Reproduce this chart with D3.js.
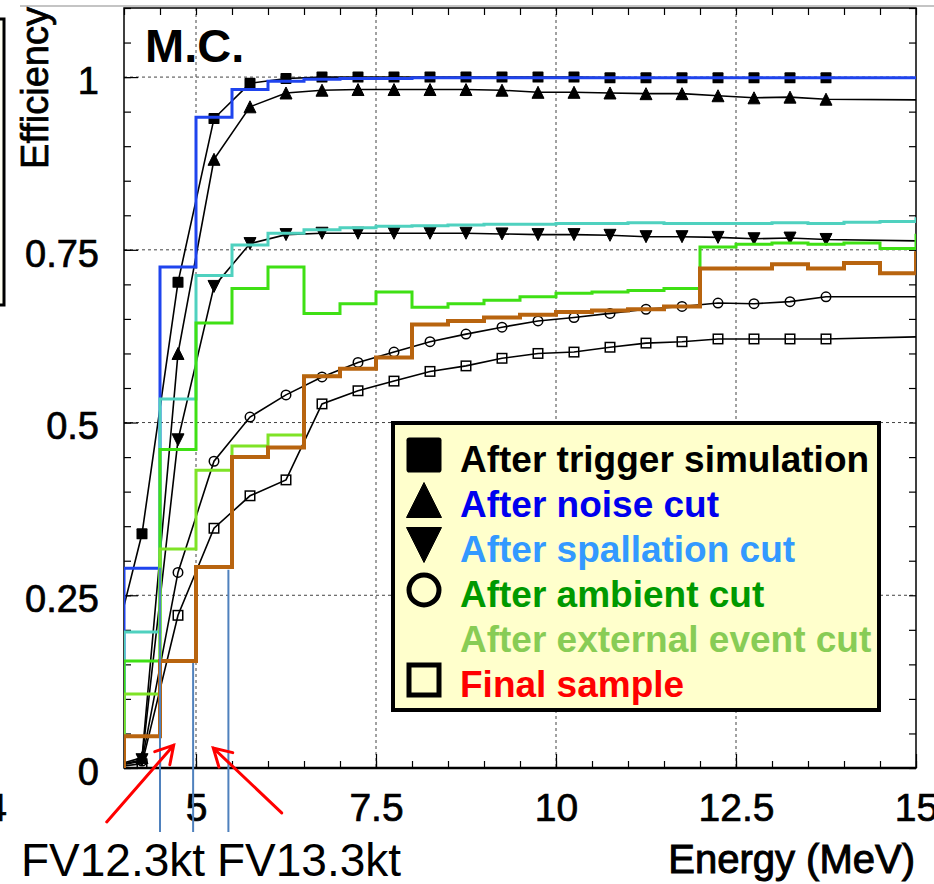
<!DOCTYPE html>
<html>
<head>
<meta charset="utf-8">
<script src="https://cdn.jsdelivr.net/npm/d3@7"></script>
<style>
  body { margin: 0; background: #fff; }
  svg { display: block; font-family: "Liberation Sans", Arial, sans-serif; }
</style>
</head>
<body>
<div id="chart"></div>
<script>
// ---- data ----
// graph points (bin centres, MeV)
const centers = [3.75, 4.25, 4.75, 5.25, 5.75, 6.25, 6.75, 7.25, 7.75, 8.25, 8.75,
  9.25, 9.75, 10.25, 10.75, 11.25, 11.75, 12.25, 12.75, 13.25, 13.75];
const trigger = [0.13, 0.339, 0.703, 0.940, 0.991, 0.998, 1.0, 1.0, 1.0, 1.0, 1.0,
  1.0, 1.0, 1.0, 0.999, 0.999, 0.999, 0.999, 0.999, 0.999, 0.999];
const noise = [0, 0.015, 0.600, 0.881, 0.957, 0.977, 0.981, 0.982, 0.982, 0.982, 0.982,
  0.981, 0.978, 0.978, 0.977, 0.976, 0.976, 0.973, 0.970, 0.971, 0.968];
const spallation = [0, 0.012, 0.475, 0.697, 0.759, 0.772, 0.774, 0.774, 0.774, 0.774, 0.774,
  0.773, 0.772, 0.772, 0.771, 0.769, 0.769, 0.768, 0.766, 0.767, 0.765];
const ambient = [0, 0.010, 0.283, 0.444, 0.508, 0.540, 0.566, 0.587, 0.602, 0.617, 0.628,
  0.638, 0.647, 0.652, 0.658, 0.664, 0.668, 0.673, 0.672, 0.675, 0.682];
const finalSample = [0, 0.006, 0.221, 0.347, 0.394, 0.417, 0.527, 0.546, 0.560, 0.574, 0.582,
  0.593, 0.600, 0.602, 0.609, 0.615, 0.617, 0.621, 0.621, 0.621, 0.621];
// value where each graph line ends at 15 MeV
const tailValues = { trigger: 0.999, noise: 0.967, spallation: 0.763, ambient: 0.682, finalSample: 0.624 };

// histogram bins (lower edges, 0.5 MeV wide)
const binStarts = [4, 4.5, 5, 5.5, 6, 6.5, 7, 7.5, 8, 8.5, 9, 9.5, 10, 10.5, 11, 11.5,
  12, 12.5, 13, 13.5, 14, 14.5, 15];
const blueHist = [0.289, 0.725, 0.942, 0.982, 0.994, 0.997, 0.998, 0.998, 0.999, 0.999, 0.999,
  0.999, 0.999, 0.999, 0.999, 0.999, 0.999, 0.999, 0.999, 0.999, 0.999, 0.999, 0.999];
const cyanHist = [0.197, 0.534, 0.713, 0.757, 0.774, 0.779, 0.782, 0.784, 0.785, 0.786, 0.787,
  0.787, 0.788, 0.788, 0.789, 0.788, 0.788, 0.788, 0.789, 0.788, 0.790, 0.791, 0.795];
const greenHist = [0.155, 0.461, 0.644, 0.694, 0.725, 0.658, 0.672, 0.689, 0.667, 0.672, 0.677,
  0.682, 0.687, 0.689, 0.691, 0.694, 0.754, 0.758, 0.760, 0.758, 0.760, 0.752, 0.771];
const lightGreenHist = [0.107, 0.317, 0.431, 0.466, 0.482, 0.567];
const brownHist = [0.046, 0.155, 0.291, 0.450, 0.464, 0.567, 0.578, 0.594, 0.642, 0.647, 0.652,
  0.656, 0.660, 0.662, 0.664, 0.668, 0.723, 0.723, 0.729, 0.723, 0.731, 0.716, 0.745];

const xTickValues = [5, 7.5, 10, 12.5, 15];
const xTickLabels = ["5", "7.5", "10", "12.5", "15"];
const yTickValues = [0, 0.25, 0.5, 0.75, 1];
const yTickLabels = ["0", "0.25", "0.5", "0.75", "1"];
const xGrid = [5, 7.5, 10, 12.5];
const yGrid = [0.25, 0.5, 0.75, 1];

const legendItems = [
  { label: "After trigger simulation", color: "#000000", marker: "square" },
  { label: "After noise cut", color: "#0000ee", marker: "triangleUp" },
  { label: "After spallation cut", color: "#3399ff", marker: "triangleDown" },
  { label: "After ambient cut", color: "#009900", marker: "circle" },
  { label: "After external event cut", color: "#88cc55", marker: null },
  { label: "Final sample", color: "#ff0000", marker: "openSquare" }
];

// fiducial volume annotation lines (energy, top of line)
const fvLines = [{ e: 4.5, top: 0.29 }, { e: 4.96, top: 0.152 }, { e: 5.45, top: 0.287 }];

// ---- setup ----
const width = 934;
const height = 884;
const frame = { left: 124, right: 916, top: 8, bottom: 768 };

const xScale = d3.scaleLinear().domain([4, 15]).range([frame.left, frame.right]);
const yScale = d3.scaleLinear().domain([0, 1.1]).range([frame.bottom, frame.top]);

const svg = d3.select("#chart").append("svg")
  .attr("width", width)
  .attr("height", height);

svg.append("defs").append("clipPath").attr("id", "plot-clip")
  .append("rect")
  .attr("x", frame.left).attr("y", frame.top)
  .attr("width", frame.right - frame.left)
  .attr("height", frame.bottom - frame.top);

// leftovers of the slide around the plot
svg.append("line")
  .attr("x1", 20).attr("x2", width).attr("y1", 6).attr("y2", 6)
  .attr("stroke", "#c4c4c4").attr("stroke-width", 2);
svg.append("rect")
  .attr("x", -40).attr("y", 19).attr("width", 44).attr("height", 286)
  .attr("fill", "#fffff2").attr("stroke", "#000").attr("stroke-width", 3);

// grid
svg.append("g").selectAll("line")
  .data(xGrid)
  .join("line")
  .attr("x1", (d) => xScale(d)).attr("x2", (d) => xScale(d))
  .attr("y1", frame.top).attr("y2", frame.bottom)
  .attr("stroke", "#444").attr("stroke-width", 1).attr("stroke-dasharray", "3,3");
svg.append("g").selectAll("line")
  .data(yGrid)
  .join("line")
  .attr("y1", (d) => yScale(d)).attr("y2", (d) => yScale(d))
  .attr("x1", frame.left).attr("x2", frame.right)
  .attr("stroke", "#444").attr("stroke-width", 1).attr("stroke-dasharray", "3,3");

// axes: ticks on all four sides, pointing inward
const minorX = d3.range(4, 15.01, 0.5);
const minorY = d3.range(0, 1.101, 0.05);

function tickAxis(axisFn, scale, values, size, translate) {
  const g = svg.append("g")
    .attr("transform", translate)
    .call(axisFn(scale).tickValues(values).tickSize(-size).tickFormat(""));
  g.select(".domain").remove();
  g.selectAll("line").attr("stroke", "#000").attr("stroke-width", 1.2);
  return g;
}
tickAxis(d3.axisBottom, xScale, minorX, 7, `translate(0,${frame.bottom})`);
tickAxis(d3.axisTop, xScale, minorX, 7, `translate(0,${frame.top})`);
tickAxis(d3.axisLeft, yScale, minorY, 7, `translate(${frame.left},0)`);
tickAxis(d3.axisRight, yScale, minorY, 7, `translate(${frame.right},0)`);
tickAxis(d3.axisBottom, xScale, xTickValues, 14, `translate(0,${frame.bottom})`);
tickAxis(d3.axisLeft, yScale, yTickValues, 14, `translate(${frame.left},0)`);

const xAxis = svg.append("g")
  .attr("transform", `translate(0,${frame.bottom})`)
  .call(d3.axisBottom(xScale).tickValues(xTickValues).tickSize(0).tickPadding(25)
    .tickFormat((d, i) => xTickLabels[i]));
xAxis.select(".domain").remove();
xAxis.selectAll("text").attr("font-size", 39).attr("font-family", null)
  .attr("fill", "#000").attr("stroke", "#000").attr("stroke-width", 0.7);

const yAxis = svg.append("g")
  .attr("transform", `translate(${frame.left},0)`)
  .call(d3.axisLeft(yScale).tickValues(yTickValues).tickSize(0).tickPadding(25)
    .tickFormat((d, i) => yTickLabels[i]));
yAxis.select(".domain").remove();
yAxis.selectAll("text").attr("font-size", 38).attr("font-family", null)
  .attr("dy", "0.43em").attr("fill", "#000").attr("stroke", "#000").attr("stroke-width", 0.7);

// stray "4" label at the far left
svg.append("text").attr("x", -4).attr("y", 821)
  .attr("text-anchor", "middle").attr("font-size", 39)
  .attr("stroke", "#000").attr("stroke-width", 0.7).text("4");

// frame
svg.append("rect")
  .attr("x", frame.left).attr("y", frame.top)
  .attr("width", frame.right - frame.left).attr("height", frame.bottom - frame.top)
  .attr("fill", "none").attr("stroke", "#000").attr("stroke-width", 1.5);
svg.append("line")
  .attr("x1", frame.left).attr("x2", frame.right)
  .attr("y1", frame.bottom).attr("y2", frame.bottom)
  .attr("stroke", "#000").attr("stroke-width", 2.5);

// ---- plot content ----
const plotArea = svg.append("g").attr("clip-path", "url(#plot-clip)");

const graphLine = d3.line().x((d) => xScale(d[0])).y((d) => yScale(d[1]));

const graphs = [
  { key: "trigger", values: trigger, marker: "square" },
  { key: "noise", values: noise, marker: "triangleUp" },
  { key: "spallation", values: spallation, marker: "triangleDown" },
  { key: "ambient", values: ambient, marker: "circle" },
  { key: "finalSample", values: finalSample, marker: "openSquare" }
];

function drawMarker(g, type, cx, cy, s, sw) {
  if (type === "square") {
    g.append("rect").attr("x", cx - s / 2).attr("y", cy - s / 2)
      .attr("width", s).attr("height", s).attr("rx", s * 0.08)
      .attr("fill", "#000");
  } else if (type === "openSquare") {
    g.append("rect").attr("x", cx - s / 2 + sw / 2).attr("y", cy - s / 2 + sw / 2)
      .attr("width", s - sw).attr("height", s - sw)
      .attr("fill", "none").attr("stroke", "#000").attr("stroke-width", sw);
  } else if (type === "circle") {
    g.append("circle").attr("cx", cx).attr("cy", cy).attr("r", s / 2 - sw / 2)
      .attr("fill", "none").attr("stroke", "#000").attr("stroke-width", sw);
  } else if (type === "triangleUp" || type === "triangleDown") {
    const h = s / 2;
    const dir = type === "triangleUp" ? 1 : -1;
    const pts = [[cx, cy - dir * h], [cx - h, cy + dir * h], [cx + h, cy + dir * h]];
    g.append("path").attr("d", "M" + pts.join("L") + "Z")
      .attr("fill", "#000").attr("stroke", "#000").attr("stroke-width", 1)
      .attr("stroke-linejoin", "round");
  }
}

graphs.forEach((gr) => {
  const pts = centers.map((c, i) => [c, gr.values[i]]);
  plotArea.append("path")
    .datum(pts.concat([[15, tailValues[gr.key]]]))
    .attr("d", graphLine)
    .attr("fill", "none").attr("stroke", "#000").attr("stroke-width", 1.6);
  const mg = plotArea.append("g");
  pts.forEach((p) => {
    const ms = gr.marker === "triangleUp" || gr.marker === "triangleDown" ? 12 : 11;
    const sw = gr.marker === "circle" || gr.marker === "openSquare" ? 1.5 : 0;
    drawMarker(mg, gr.marker, xScale(p[0]), yScale(p[1]), ms, sw);
  });
});

// histograms
const stepLine = d3.line().curve(d3.curveStepAfter)
  .x((d) => xScale(d[0])).y((d) => yScale(d[1]));

const histograms = [
  { values: blueHist, color: "#1f44ee", width: 3 },
  { values: cyanHist, color: "#4fd1bf", width: 3 },
  { values: greenHist, color: "#3fe014", width: 3 },
  { values: lightGreenHist, color: "#7fe326", width: 3 },
  { values: brownHist, color: "#b8640f", width: 4 }
];

histograms.forEach((h) => {
  const pts = [[binStarts[0], 0]].concat(h.values.map((v, i) => [binStarts[i], v]));
  const last = h.values.length - 1;
  pts.push([binStarts[last] + 0.5, h.values[last]]);
  plotArea.append("path")
    .datum(pts)
    .attr("d", stepLine)
    .attr("fill", "none").attr("stroke", h.color)
    .attr("stroke-width", h.width).attr("stroke-linejoin", "miter");
});

// M.C. label
svg.append("text").attr("x", 145).attr("y", 62)
  .attr("font-size", 47).attr("font-weight", "bold").text("M.C.");

// axis titles
svg.append("text")
  .attr("transform", "translate(48,7) rotate(-90)")
  .attr("text-anchor", "end").attr("font-size", 38)
  .attr("stroke", "#000").attr("stroke-width", 0.7)
  .text("Efficiency");
svg.append("text")
  .attr("x", 915).attr("y", 873)
  .attr("text-anchor", "end").attr("font-size", 40)
  .attr("stroke", "#000").attr("stroke-width", 1)
  .text("Energy (MeV)");

// ---- legend ----
const legend = svg.append("g");
legend.append("rect")
  .attr("x", 393).attr("y", 423).attr("width", 486).attr("height", 287)
  .attr("fill", "#ffffcc").attr("stroke", "#000").attr("stroke-width", 4);
legendItems.forEach((item, i) => {
  const baseY = 472 + i * 45;
  if (item.marker) {
    drawMarker(legend, item.marker, 424, baseY - 17, 35, 5);
  }
  legend.append("text")
    .attr("x", 460).attr("y", baseY)
    .attr("font-size", 37).attr("font-weight", "bold")
    .attr("fill", item.color)
    .text(item.label);
});

// ---- annotations ----
svg.append("g").selectAll("line")
  .data(fvLines)
  .join("line")
  .attr("x1", (d) => xScale(d.e)).attr("x2", (d) => xScale(d.e))
  .attr("y1", (d) => yScale(d.top)).attr("y2", 832)
  .attr("stroke", "#4f81bd").attr("stroke-width", 2);

const arrows = [
  { from: [3.76, -0.078], to: [4.69, 0.033] },
  { from: [6.19, -0.065], to: [5.24, 0.029] }
];
arrows.forEach((a) => {
  const x1 = xScale(a.from[0]), y1 = yScale(a.from[1]);
  const x2 = xScale(a.to[0]), y2 = yScale(a.to[1]);
  const ang = Math.atan2(y2 - y1, x2 - x1);
  const len = 20, spread = Math.PI / 6;
  const w1 = [x2 - len * Math.cos(ang - spread), y2 - len * Math.sin(ang - spread)];
  const w2 = [x2 - len * Math.cos(ang + spread), y2 - len * Math.sin(ang + spread)];
  svg.append("path")
    .attr("d", `M${x1},${y1}L${x2},${y2}M${w1}L${x2},${y2}L${w2}`)
    .attr("fill", "none").attr("stroke", "#ff0000").attr("stroke-width", 3)
    .attr("stroke-linecap", "round");
});

svg.append("text").attr("x", 21).attr("y", 876).attr("font-size", 46).text("FV12.3kt");
svg.append("text").attr("x", 217).attr("y", 876).attr("font-size", 46).text("FV13.3kt");
</script>
</body>
</html>
